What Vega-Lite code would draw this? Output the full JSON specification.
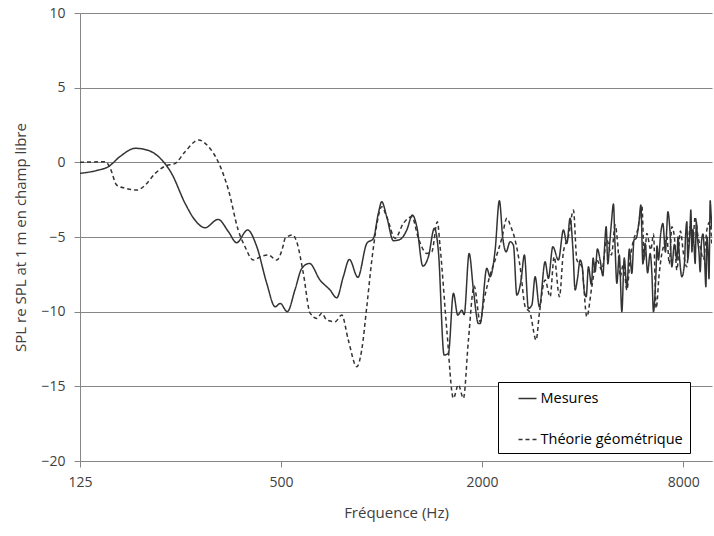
{
"$schema": "https://vega.github.io/schema/vega-lite/v6.json",
"width": 632, "height": 448,
"autosize": "none",
"padding": {"left": 80, "top": 13, "right": 2, "bottom": 75},
"background": "white",
"config": {"view": {"stroke": null}, "font": "Open Sans"},
"data": {"values": [
{"f":125,"v":-0.74,"s":"Mesures"},{"f":140,"v":-0.55,"s":"Mesures"},{"f":152,"v":-0.29,"s":"Mesures"},{"f":165,"v":0.4,"s":"Mesures"},{"f":183,"v":0.94,"s":"Mesures"},{"f":200,"v":0.8,"s":"Mesures"},{"f":220,"v":0.15,"s":"Mesures"},{"f":235,"v":-0.74,"s":"Mesures"},{"f":258,"v":-2.75,"s":"Mesures"},{"f":276,"v":-3.86,"s":"Mesures"},{"f":296,"v":-4.38,"s":"Mesures"},{"f":324,"v":-3.82,"s":"Mesures"},{"f":348,"v":-4.65,"s":"Mesures"},{"f":368,"v":-5.38,"s":"Mesures"},{"f":397,"v":-4.53,"s":"Mesures"},{"f":423,"v":-5.65,"s":"Mesures"},{"f":453,"v":-8.1,"s":"Mesures"},{"f":480,"v":-9.67,"s":"Mesures"},{"f":497,"v":-9.45,"s":"Mesures"},{"f":522,"v":-10.0,"s":"Mesures"},{"f":551,"v":-8.5,"s":"Mesures"},{"f":577,"v":-7.1,"s":"Mesures"},{"f":608,"v":-6.77,"s":"Mesures"},{"f":654,"v":-7.88,"s":"Mesures"},{"f":701,"v":-8.55,"s":"Mesures"},{"f":734,"v":-9.07,"s":"Mesures"},{"f":768,"v":-7.66,"s":"Mesures"},{"f":801,"v":-6.5,"s":"Mesures"},{"f":849,"v":-7.7,"s":"Mesures"},{"f":903,"v":-5.43,"s":"Mesures"},{"f":945,"v":-5.1,"s":"Mesures"},{"f":978,"v":-3.42,"s":"Mesures"},{"f":1001,"v":-2.64,"s":"Mesures"},{"f":1036,"v":-3.64,"s":"Mesures"},{"f":1085,"v":-5.25,"s":"Mesures"},{"f":1136,"v":-5.16,"s":"Mesures"},{"f":1190,"v":-4.53,"s":"Mesures"},{"f":1237,"v":-3.53,"s":"Mesures"},{"f":1275,"v":-4.31,"s":"Mesures"},{"f":1329,"v":-6.95,"s":"Mesures"},{"f":1381,"v":-6.32,"s":"Mesures"},{"f":1439,"v":-4.42,"s":"Mesures"},{"f":1480,"v":-5.99,"s":"Mesures"},{"f":1539,"v":-12.9,"s":"Mesures"},{"f":1585,"v":-12.8,"s":"Mesures"},{"f":1641,"v":-8.77,"s":"Mesures"},{"f":1691,"v":-10.23,"s":"Mesures"},{"f":1739,"v":-9.9,"s":"Mesures"},{"f":1767,"v":-10.2,"s":"Mesures"},{"f":1829,"v":-6.1,"s":"Mesures"},{"f":1884,"v":-8.55,"s":"Mesures"},{"f":1950,"v":-10.8,"s":"Mesures"},{"f":1973,"v":-10.8,"s":"Mesures"},{"f":2066,"v":-7.1,"s":"Mesures"},{"f":2113,"v":-7.66,"s":"Mesures"},{"f":2188,"v":-5.87,"s":"Mesures"},{"f":2253,"v":-2.57,"s":"Mesures"},{"f":2307,"v":-5.09,"s":"Mesures"},{"f":2360,"v":-5.99,"s":"Mesures"},{"f":2426,"v":-5.32,"s":"Mesures"},{"f":2482,"v":-5.54,"s":"Mesures"},{"f":2541,"v":-8.89,"s":"Mesures"},{"f":2617,"v":-7.88,"s":"Mesures"},{"f":2677,"v":-6.2,"s":"Mesures"},{"f":2752,"v":-9.78,"s":"Mesures"},{"f":2818,"v":-9.56,"s":"Mesures"},{"f":2883,"v":-7.66,"s":"Mesures"},{"f":2969,"v":-9.67,"s":"Mesures"},{"f":3088,"v":-6.66,"s":"Mesures"},{"f":3159,"v":-7.77,"s":"Mesures"},{"f":3257,"v":-5.65,"s":"Mesures"},{"f":3385,"v":-6.54,"s":"Mesures"},{"f":3504,"v":-4.53,"s":"Mesures"},{"f":3587,"v":-5.43,"s":"Mesures"},{"f":3669,"v":-3.75,"s":"Mesures"},{"f":3740,"v":-5.8,"s":"Mesures"},{"f":3798,"v":-8.55,"s":"Mesures"},{"f":3860,"v":-7.8,"s":"Mesures"},{"f":3932,"v":-6.54,"s":"Mesures"},{"f":3990,"v":-7.0,"s":"Mesures"},{"f":4041,"v":-8.55,"s":"Mesures"},{"f":4100,"v":-9.0,"s":"Mesures"},{"f":4163,"v":-6.99,"s":"Mesures"},{"f":4250,"v":-8.2,"s":"Mesures"},{"f":4300,"v":-6.4,"s":"Mesures"},{"f":4360,"v":-7.33,"s":"Mesures"},{"f":4430,"v":-5.8,"s":"Mesures"},{"f":4513,"v":-6.54,"s":"Mesures"},{"f":4600,"v":-7.6,"s":"Mesures"},{"f":4650,"v":-5.8,"s":"Mesures"},{"f":4704,"v":-4.31,"s":"Mesures"},{"f":4760,"v":-6.8,"s":"Mesures"},{"f":4812,"v":-5.65,"s":"Mesures"},{"f":4880,"v":-4.0,"s":"Mesures"},{"f":4947,"v":-2.79,"s":"Mesures"},{"f":5000,"v":-5.5,"s":"Mesures"},{"f":5064,"v":-8.1,"s":"Mesures"},{"f":5150,"v":-6.2,"s":"Mesures"},{"f":5242,"v":-10.0,"s":"Mesures"},{"f":5330,"v":-6.4,"s":"Mesures"},{"f":5426,"v":-8.4,"s":"Mesures"},{"f":5520,"v":-5.8,"s":"Mesures"},{"f":5616,"v":-7.43,"s":"Mesures"},{"f":5700,"v":-5.2,"s":"Mesures"},{"f":5785,"v":-5.09,"s":"Mesures"},{"f":5900,"v":-4.0,"s":"Mesures"},{"f":5976,"v":-2.86,"s":"Mesures"},{"f":6060,"v":-6.8,"s":"Mesures"},{"f":6156,"v":-5.43,"s":"Mesures"},{"f":6260,"v":-7.4,"s":"Mesures"},{"f":6371,"v":-6.1,"s":"Mesures"},{"f":6450,"v":-7.5,"s":"Mesures"},{"f":6518,"v":-10.0,"s":"Mesures"},{"f":6630,"v":-7.5,"s":"Mesures"},{"f":6680,"v":-5.6,"s":"Mesures"},{"f":6747,"v":-6.54,"s":"Mesures"},{"f":6850,"v":-4.8,"s":"Mesures"},{"f":6956,"v":-4.1,"s":"Mesures"},{"f":7080,"v":-6.0,"s":"Mesures"},{"f":7140,"v":-4.6,"s":"Mesures"},{"f":7200,"v":-3.31,"s":"Mesures"},{"f":7300,"v":-4.5,"s":"Mesures"},{"f":7401,"v":-7.0,"s":"Mesures"},{"f":7530,"v":-5.5,"s":"Mesures"},{"f":7660,"v":-6.54,"s":"Mesures"},{"f":7720,"v":-5.0,"s":"Mesures"},{"f":7790,"v":-6.2,"s":"Mesures"},{"f":7930,"v":-7.66,"s":"Mesures"},{"f":8070,"v":-6.8,"s":"Mesures"},{"f":8130,"v":-5.0,"s":"Mesures"},{"f":8207,"v":-3.98,"s":"Mesures"},{"f":8260,"v":-6.5,"s":"Mesures"},{"f":8320,"v":-5.8,"s":"Mesures"},{"f":8380,"v":-4.6,"s":"Mesures"},{"f":8436,"v":-3.2,"s":"Mesures"},{"f":8500,"v":-6.0,"s":"Mesures"},{"f":8560,"v":-4.5,"s":"Mesures"},{"f":8620,"v":-5.5,"s":"Mesures"},{"f":8690,"v":-6.77,"s":"Mesures"},{"f":8760,"v":-4.0,"s":"Mesures"},{"f":8840,"v":-5.2,"s":"Mesures"},{"f":8920,"v":-6.0,"s":"Mesures"},{"f":8996,"v":-7.33,"s":"Mesures"},{"f":9080,"v":-5.3,"s":"Mesures"},{"f":9170,"v":-4.8,"s":"Mesures"},{"f":9260,"v":-6.0,"s":"Mesures"},{"f":9356,"v":-8.33,"s":"Mesures"},{"f":9430,"v":-5.0,"s":"Mesures"},{"f":9500,"v":-6.2,"s":"Mesures"},{"f":9560,"v":-7.8,"s":"Mesures"},{"f":9639,"v":-2.57,"s":"Mesures"},{"f":9700,"v":-3.5,"s":"Mesures"},{"f":9760,"v":-4.5,"s":"Mesures"},
{"f":125,"v":0.0,"s":"Théorie géométrique"},{"f":149,"v":0.04,"s":"Théorie géométrique"},{"f":154,"v":-0.4,"s":"Théorie géométrique"},{"f":161,"v":-1.52,"s":"Théorie géométrique"},{"f":171,"v":-1.74,"s":"Théorie géométrique"},{"f":185,"v":-1.86,"s":"Théorie géométrique"},{"f":196,"v":-1.52,"s":"Théorie géométrique"},{"f":210,"v":-0.74,"s":"Théorie géométrique"},{"f":225,"v":-0.25,"s":"Théorie géométrique"},{"f":241,"v":-0.07,"s":"Théorie géométrique"},{"f":258,"v":0.71,"s":"Théorie géométrique"},{"f":283,"v":1.5,"s":"Théorie géométrique"},{"f":303,"v":1.05,"s":"Théorie géométrique"},{"f":324,"v":0.04,"s":"Théorie géométrique"},{"f":348,"v":-1.86,"s":"Théorie géométrique"},{"f":372,"v":-4.53,"s":"Théorie géométrique"},{"f":390,"v":-5.65,"s":"Théorie géométrique"},{"f":413,"v":-6.54,"s":"Théorie géométrique"},{"f":438,"v":-6.28,"s":"Théorie géométrique"},{"f":458,"v":-6.2,"s":"Théorie géométrique"},{"f":485,"v":-6.54,"s":"Théorie géométrique"},{"f":508,"v":-5.54,"s":"Théorie géométrique"},{"f":514,"v":-5.09,"s":"Théorie géométrique"},{"f":542,"v":-4.87,"s":"Théorie géométrique"},{"f":557,"v":-5.32,"s":"Théorie géométrique"},{"f":583,"v":-7.43,"s":"Théorie géométrique"},{"f":611,"v":-10.1,"s":"Théorie géométrique"},{"f":640,"v":-10.45,"s":"Théorie géométrique"},{"f":662,"v":-10.1,"s":"Théorie géométrique"},{"f":685,"v":-10.56,"s":"Théorie géométrique"},{"f":726,"v":-10.67,"s":"Théorie géométrique"},{"f":760,"v":-10.23,"s":"Théorie géométrique"},{"f":795,"v":-11.9,"s":"Théorie géométrique"},{"f":843,"v":-13.69,"s":"Théorie géométrique"},{"f":872,"v":-12.57,"s":"Théorie géométrique"},{"f":903,"v":-9.67,"s":"Théorie géométrique"},{"f":935,"v":-6.54,"s":"Théorie géométrique"},{"f":967,"v":-4.2,"s":"Théorie géométrique"},{"f":1001,"v":-2.97,"s":"Théorie géométrique"},{"f":1036,"v":-3.64,"s":"Théorie géométrique"},{"f":1098,"v":-5.09,"s":"Théorie géométrique"},{"f":1162,"v":-4.09,"s":"Théorie géométrique"},{"f":1232,"v":-3.64,"s":"Théorie géométrique"},{"f":1289,"v":-5.09,"s":"Théorie géométrique"},{"f":1366,"v":-6.1,"s":"Théorie géométrique"},{"f":1414,"v":-5.99,"s":"Théorie géométrique"},{"f":1469,"v":-3.98,"s":"Théorie géométrique"},{"f":1497,"v":-5.65,"s":"Théorie géométrique"},{"f":1568,"v":-11.23,"s":"Théorie géométrique"},{"f":1641,"v":-15.8,"s":"Théorie géométrique"},{"f":1698,"v":-14.9,"s":"Théorie géométrique"},{"f":1758,"v":-15.8,"s":"Théorie géométrique"},{"f":1820,"v":-11.9,"s":"Théorie géométrique"},{"f":1893,"v":-8.28,"s":"Théorie géométrique"},{"f":1973,"v":-10.67,"s":"Théorie géométrique"},{"f":2027,"v":-9.22,"s":"Théorie géométrique"},{"f":2113,"v":-7.55,"s":"Théorie géométrique"},{"f":2188,"v":-6.54,"s":"Théorie géométrique"},{"f":2291,"v":-5.09,"s":"Théorie géométrique"},{"f":2372,"v":-3.75,"s":"Théorie géométrique"},{"f":2438,"v":-4.31,"s":"Théorie géométrique"},{"f":2511,"v":-5.2,"s":"Théorie géométrique"},{"f":2599,"v":-6.99,"s":"Théorie géométrique"},{"f":2691,"v":-9.67,"s":"Théorie géométrique"},{"f":2785,"v":-10.1,"s":"Théorie géométrique"},{"f":2902,"v":-11.9,"s":"Théorie géométrique"},{"f":2969,"v":-10.1,"s":"Théorie géométrique"},{"f":3088,"v":-7.88,"s":"Théorie géométrique"},{"f":3197,"v":-9.0,"s":"Théorie géométrique"},{"f":3286,"v":-6.32,"s":"Théorie géométrique"},{"f":3409,"v":-9.0,"s":"Théorie géométrique"},{"f":3504,"v":-5.99,"s":"Théorie géométrique"},{"f":3627,"v":-4.98,"s":"Théorie géométrique"},{"f":3754,"v":-3.2,"s":"Théorie géométrique"},{"f":3844,"v":-6.54,"s":"Théorie géométrique"},{"f":3978,"v":-6.99,"s":"Théorie géométrique"},{"f":4117,"v":-10.34,"s":"Théorie géométrique"},{"f":4262,"v":-8.33,"s":"Théorie géométrique"},{"f":4412,"v":-6.54,"s":"Théorie géométrique"},{"f":4566,"v":-7.21,"s":"Théorie géométrique"},{"f":4727,"v":-5.2,"s":"Théorie géométrique"},{"f":4880,"v":-6.2,"s":"Théorie géométrique"},{"f":5005,"v":-4.2,"s":"Théorie géométrique"},{"f":5100,"v":-5.6,"s":"Théorie géométrique"},{"f":5180,"v":-7.66,"s":"Théorie géométrique"},{"f":5300,"v":-6.8,"s":"Théorie géométrique"},{"f":5426,"v":-8.55,"s":"Théorie géométrique"},{"f":5550,"v":-6.5,"s":"Théorie géométrique"},{"f":5678,"v":-5.2,"s":"Théorie géométrique"},{"f":5850,"v":-4.5,"s":"Théorie géométrique"},{"f":6018,"v":-2.92,"s":"Théorie géométrique"},{"f":6120,"v":-6.5,"s":"Théorie géométrique"},{"f":6228,"v":-4.76,"s":"Théorie géométrique"},{"f":6402,"v":-5.87,"s":"Théorie géométrique"},{"f":6520,"v":-4.8,"s":"Théorie géométrique"},{"f":6641,"v":-9.78,"s":"Théorie géométrique"},{"f":6780,"v":-7.5,"s":"Théorie géométrique"},{"f":6907,"v":-6.1,"s":"Théorie géométrique"},{"f":7020,"v":-5.5,"s":"Théorie géométrique"},{"f":7149,"v":-4.98,"s":"Théorie géométrique"},{"f":7270,"v":-6.8,"s":"Théorie géométrique"},{"f":7401,"v":-4.31,"s":"Théorie géométrique"},{"f":7530,"v":-5.0,"s":"Théorie géométrique"},{"f":7660,"v":-7.21,"s":"Théorie géométrique"},{"f":7850,"v":-4.6,"s":"Théorie géométrique"},{"f":8017,"v":-6.1,"s":"Théorie géométrique"},{"f":8200,"v":-7.0,"s":"Théorie géométrique"},{"f":8396,"v":-4.31,"s":"Théorie géométrique"},{"f":8540,"v":-5.5,"s":"Théorie géométrique"},{"f":8690,"v":-3.64,"s":"Théorie géométrique"},{"f":8840,"v":-4.8,"s":"Théorie géométrique"},{"f":8996,"v":-5.65,"s":"Théorie géométrique"},{"f":9200,"v":-6.5,"s":"Théorie géométrique"},{"f":9421,"v":-4.53,"s":"Théorie géométrique"},{"f":9600,"v":-4.0,"s":"Théorie géométrique"},{"f":9760,"v":-5.65,"s":"Théorie géométrique"}
]},
"mark": {"type": "line", "color": "#333333", "strokeWidth": 1.5, "clip": true, "interpolate": "monotone"},
"encoding": {
  "x": {"field": "f", "type": "quantitative",
    "scale": {"type": "log", "domain": [125, 9760], "nice": false},
    "axis": {"values": [125, 500, 2000, 8000], "format": "d", "grid": false, "title": "Fréquence (Hz)",
      "domainColor": "#868686", "tickColor": "#868686", "tickSize": 6, "labelPadding": 8, "labelFlush": false, "labelOverlap": false,
      "labelFontSize": 14, "labelColor": "#404040", "titleFontSize": 15, "titleFontWeight": "normal", "titleColor": "#404040", "titlePadding": 16}},
  "y": {"field": "v", "type": "quantitative",
    "scale": {"domain": [-20, 10], "nice": false, "zero": false},
    "axis": {"values": [-20, -15, -10, -5, 0, 5, 10], "grid": true, "gridColor": "#868686", "gridOpacity": 1,
      "domainColor": "#868686", "tickColor": "#868686", "tickSize": 6, "labelPadding": 9, "labelFontSize": 14, "labelColor": "#404040",
      "title": "SPL re SPL at 1 m en champ libre", "titleFontSize": 15, "titleFontWeight": "normal", "titleColor": "#404040", "titlePadding": 12}},
  "strokeDash": {"field": "s", "type": "nominal",
    "scale": {"domain": ["Mesures", "Théorie géométrique"], "range": [[1, 0], [4, 3]]},
    "legend": {"orient": "none", "legendX": 418, "legendY": 369, "title": null, "strokeColor": "#000", "fillColor": "white",
      "padding": 6.5, "symbolType": "stroke", "symbolSize": 324, "symbolStrokeWidth": 1.5, "symbolStrokeColor": "#333333",
      "labelFontSize": 14.5, "labelColor": "#000", "rowPadding": 24, "symbolOffset": 13, "labelOffset": 3}}
}
}
